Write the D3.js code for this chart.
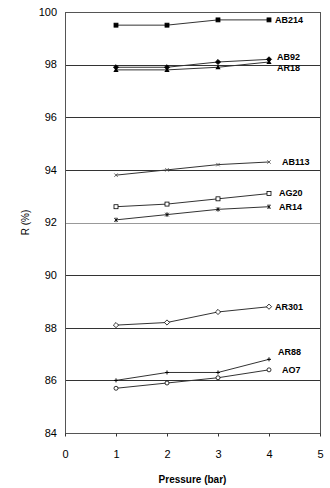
<!DOCTYPE html>
<html>
<head>
<meta charset="utf-8">
<script src="https://cdn.jsdelivr.net/npm/d3@7"></script>
<style>
  body { margin: 0; background: #fff; }
  svg text { font-family: Arial, "Liberation Sans", sans-serif; fill: #000; }
  .tick-label { font-size: 11px; }
  .series-label { font-size: 9px; font-weight: bold; }
  .axis-title { font-size: 10px; }
</style>
</head>
<body>
<svg id="chart"></svg>
<script>
// Data
const pressures = [1, 2, 3, 4];
const seriesNames = ['AB214', 'AB92', 'AR18', 'AB113', 'AG20', 'AR14', 'AR301', 'AR88', 'AO7'];
const AB214 = [99.5, 99.5, 99.7, 99.7];
const AB92  = [97.9, 97.9, 98.1, 98.2];
const AR18  = [97.8, 97.8, 97.9, 98.1];
const AB113 = [93.8, 94.0, 94.2, 94.3];
const AG20  = [92.6, 92.7, 92.9, 93.1];
const AR14  = [92.1, 92.3, 92.5, 92.6];
const AR301 = [88.1, 88.2, 88.6, 88.8];
const AR88  = [86.0, 86.3, 86.3, 86.8];
const AO7   = [85.7, 85.9, 86.1, 86.4];
const xTicks = [0, 1, 2, 3, 4, 5];
const yTicks = [84, 86, 88, 90, 92, 94, 96, 98, 100];

const seriesValues = [AB214, AB92, AR18, AB113, AG20, AR14, AR301, AR88, AO7];
const markers = ['fsquare', 'fdiamond', 'ftriangle', 'cross', 'osquare', 'star', 'odiamond', 'plus', 'ocircle'];
// label nudges (px) relative to last point
const labelDx = [6, 8, 8, 13, 10, 10, 6, 9, 13];
const labelDy = [3, 1, 9, 3, 2, 3, 3, -4, 3];

const width = 330, height = 488;
const margin = { top: 12, right: 10, bottom: 55, left: 65 };
const w = width - margin.left - margin.right;
const h = height - margin.top - margin.bottom;

const svg = d3.select('#chart').attr('width', width).attr('height', height);
const chart = svg.append('g').attr('transform', `translate(${margin.left},${margin.top})`);

const x = d3.scaleLinear().domain([0, 5]).range([0, w]);
const y = d3.scaleLinear().domain([84, 100]).range([h, 0]);

// gridlines
chart.selectAll('.grid')
  .data(yTicks)
  .join('line')
    .attr('x1', 0).attr('x2', w)
    .attr('y1', d => Math.round(y(d)) + 0.5).attr('y2', d => Math.round(y(d)) + 0.5)
    .attr('stroke', d => (d === 92 ? '#999' : '#333'))
    .attr('stroke-width', 1);

// frame
chart.append('rect')
  .attr('x', 0.5).attr('y', 0.5)
  .attr('width', w).attr('height', Math.round(h))
  .attr('fill', 'none').attr('stroke', '#555');

// y tick labels
chart.selectAll('.ylab')
  .data(yTicks)
  .join('text')
    .attr('class', 'tick-label')
    .attr('x', -8)
    .attr('y', d => y(d))
    .attr('dy', '0.35em')
    .attr('text-anchor', 'end')
    .text(d => d);

// x ticks + labels
const xAxis = d3.axisBottom(x).tickValues(xTicks).tickSize(3).tickFormat(d3.format('d'));
const xg = chart.append('g').attr('transform', `translate(0,${Math.round(h) + 0.5})`).call(xAxis);
xg.select('.domain').remove();
xg.selectAll('.tick line').attr('stroke', '#333');
xg.selectAll('.tick text').attr('class', 'tick-label').attr('dy', '1.7em').style('font-size', '11px')
  .style('font-family', 'Arial, "Liberation Sans", sans-serif');

// axis titles
svg.append('text')
  .attr('class', 'axis-title')
  .attr('transform', `translate(29,${margin.top + h / 2}) rotate(-90)`)
  .attr('text-anchor', 'middle')
  .text('R (%)');

svg.append('text')
  .attr('class', 'axis-title')
  .attr('x', margin.left + w / 2)
  .attr('y', 483)
  .attr('text-anchor', 'middle')
  .style('font-weight', 'bold')
  .text('Pressure (bar)');

const line = d3.line().x((d, i) => x(pressures[i])).y(d => y(d));

function drawMarker(g, type, cx, cy) {
  const s = 2;
  if (type === 'fsquare' || type === 'osquare') {
    g.append('rect').attr('x', cx - s).attr('y', cy - s).attr('width', 2 * s).attr('height', 2 * s)
      .attr('fill', type === 'fsquare' ? '#000' : '#fff').attr('stroke', '#000').attr('stroke-width', 0.8);
  } else if (type === 'fdiamond' || type === 'odiamond') {
    const r = 2.6;
    g.append('path').attr('d', `M${cx},${cy - r}L${cx + r},${cy}L${cx},${cy + r}L${cx - r},${cy}Z`)
      .attr('fill', type === 'fdiamond' ? '#000' : '#fff').attr('stroke', '#000').attr('stroke-width', 0.8);
  } else if (type === 'ftriangle') {
    const r = 2.6;
    g.append('path').attr('d', `M${cx},${cy - r}L${cx + r},${cy + r * 0.8}L${cx - r},${cy + r * 0.8}Z`)
      .attr('fill', '#000');
  } else if (type === 'cross') {
    const r = 1.7;
    g.append('path').attr('d', `M${cx - r},${cy - r}L${cx + r},${cy + r}M${cx - r},${cy + r}L${cx + r},${cy - r}`)
      .attr('stroke', '#555').attr('stroke-width', 0.9);
  } else if (type === 'star') {
    const r = 1.8;
    g.append('path').attr('d', `M${cx - r},${cy - r}L${cx + r},${cy + r}M${cx - r},${cy + r}L${cx + r},${cy - r}M${cx},${cy - r - 0.5}L${cx},${cy + r + 0.5}`)
      .attr('stroke', '#000').attr('stroke-width', 0.9);
  } else if (type === 'plus') {
    const r = 2;
    g.append('path').attr('d', `M${cx - r},${cy}L${cx + r},${cy}M${cx},${cy - r}L${cx},${cy + r}`)
      .attr('stroke', '#000').attr('stroke-width', 1);
  } else if (type === 'ocircle') {
    g.append('circle').attr('cx', cx).attr('cy', cy).attr('r', 2)
      .attr('fill', '#fff').attr('stroke', '#000').attr('stroke-width', 0.8);
  }
}

seriesValues.forEach((vals, k) => {
  const g = chart.append('g');
  g.append('path').datum(vals)
    .attr('d', line)
    .attr('fill', 'none')
    .attr('stroke', '#333')
    .attr('stroke-width', 1);
  vals.forEach((v, i) => drawMarker(g, markers[k], x(pressures[i]), y(v)));
  g.append('text')
    .attr('class', 'series-label')
    .attr('x', x(pressures[pressures.length - 1]) + labelDx[k])
    .attr('y', y(vals[vals.length - 1]) + labelDy[k])
    .text(seriesNames[k]);
});
</script>
</body>
</html>
